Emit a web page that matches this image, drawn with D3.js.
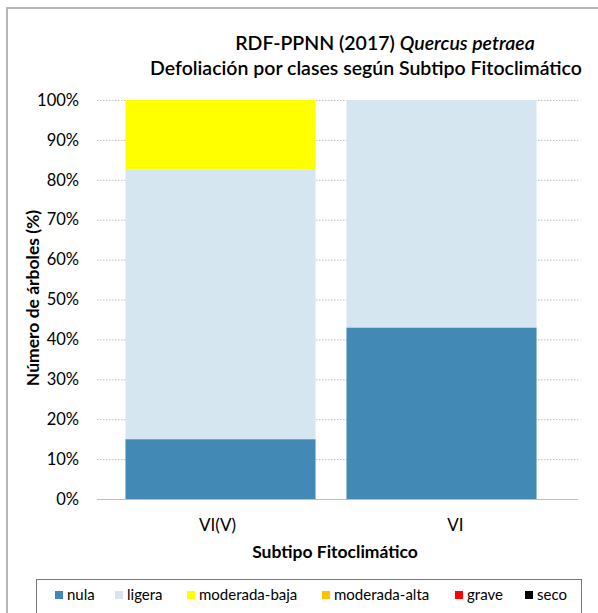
<!DOCTYPE html>
<html><head><meta charset="utf-8">
<script src="https://cdn.jsdelivr.net/npm/d3@7"></script>
<style>body{margin:0;background:#fff}svg{display:block}text{font-family:Lato,"Open Sans",sans-serif;fill:#000}</style>
</head><body>
<svg id="c" width="598" height="613"></svg>
<script>
const categories = ["VI(V)", "VI"];
const seriesNames = ["nula", "ligera", "moderada-baja", "moderada-alta", "grave", "seco"];
const seriesColors = ["#4389b6", "#d6e6f1", "#ffff00", "#ffc000", "#ff0000", "#000000"];
const nula = [15, 43];
const ligera = [67.5, 57];
const moderadaBaja = [17.5, 0];
const moderadaAlta = [0, 0];
const grave = [0, 0];
const seco = [0, 0];
const yTicks = [0,10,20,30,40,50,60,70,80,90,100];

const seriesValues = [nula, ligera, moderadaBaja, moderadaAlta, grave, seco];
const table = categories.map((c,i)=>{const o={cat:c}; seriesNames.forEach((s,j)=>o[s]=seriesValues[j][i]); return o;});
const stacked = d3.stack().keys(seriesNames)(table);

const svg = d3.select("#c");
svg.append("rect").attr("x",7).attr("y",8).attr("width",620).attr("height",640)
  .attr("fill","none").attr("stroke","#b5b5b5").attr("stroke-width",2);

const y = d3.scaleLinear().domain([0,100]).range([499,100]);
const x = d3.scaleBand().domain(categories).range([110,552]).paddingInner(0.14).paddingOuter(0.07);
const xl = d3.scalePoint().domain(categories).range([217,455]);

svg.append("g").selectAll("line").data(yTicks.filter(t=>t>0)).join("line")
  .attr("x1",97).attr("x2",578).attr("y1",d=>y(d)+0.5).attr("y2",d=>y(d)+0.5)
  .attr("stroke","#bdbdbd").attr("stroke-dasharray","1.5,1.5");
svg.append("line").attr("x1",97).attr("x2",578).attr("y1",y(0)+0.5).attr("y2",y(0)+0.5).attr("stroke","#bdbdbd");

const colorOf = d3.scaleOrdinal().domain(seriesNames).range(seriesColors);
svg.append("g").selectAll("g").data(stacked).join("g").attr("fill",d=>colorOf(d.key))
  .selectAll("rect").data(d=>d).join("rect")
  .attr("x",d=>x(d.data.cat)).attr("width",x.bandwidth())
  .attr("y",d=>y(d[1])).attr("height",d=>y(d[0])-y(d[1]));

const yAxis = d3.axisLeft(y).tickValues(yTicks).tickFormat(d=>d+"%").tickSize(0).tickPadding(0);
const gy = svg.append("g").attr("transform","translate(79,0)").call(yAxis);
gy.select(".domain").remove();
gy.selectAll("text").style("font-size","16.5px").style("font-family","Lato,sans-serif").attr("fill","#000");

const xAxis = d3.axisBottom(xl).tickSize(0).tickPadding(0);
const gx = svg.append("g").attr("transform","translate(0,519)").call(xAxis);
gx.select(".domain").remove();
gx.selectAll("text").style("font-size","17px").style("font-family","Lato,sans-serif").attr("fill","#000");

const t1 = svg.append("text").attr("x",385).attr("y",50).attr("text-anchor","middle")
  .style("font-size","19.5px").style("font-weight","600");
t1.append("tspan").text("RDF-PPNN (2017) ");
t1.append("tspan").style("font-style","italic").text("Quercus petraea");
svg.append("text").attr("x",366).attr("y",75).attr("text-anchor","middle")
  .style("font-size","19.5px").style("font-weight","600").text("Defoliación por clases según Subtipo Fitoclimático");

svg.append("text").attr("transform","translate(39,298) rotate(-90)").attr("text-anchor","middle")
  .style("font-size","17.5px").style("font-weight","bold").text("Número de árboles (%)");
svg.append("text").attr("x",335).attr("y",558).attr("text-anchor","middle")
  .style("font-size","17.5px").style("font-weight","bold").text("Subtipo Fitoclimático");

svg.append("rect").attr("x",36.5).attr("y",579.5).attr("width",545).attr("height",40)
  .attr("fill","#fff").attr("stroke","#777");
const legX = [55,115,187,322,455,525];
const lg = svg.append("g").selectAll("g").data(seriesNames).join("g")
  .attr("transform",(d,i)=>`translate(${legX[i]},600)`);
lg.append("rect").attr("x",0).attr("y",-9).attr("width",8).attr("height",8).attr("fill",d=>colorOf(d));
lg.append("text").attr("x",12).attr("y",0).style("font-size","15px").text(d=>d);
</script>
</body></html>
